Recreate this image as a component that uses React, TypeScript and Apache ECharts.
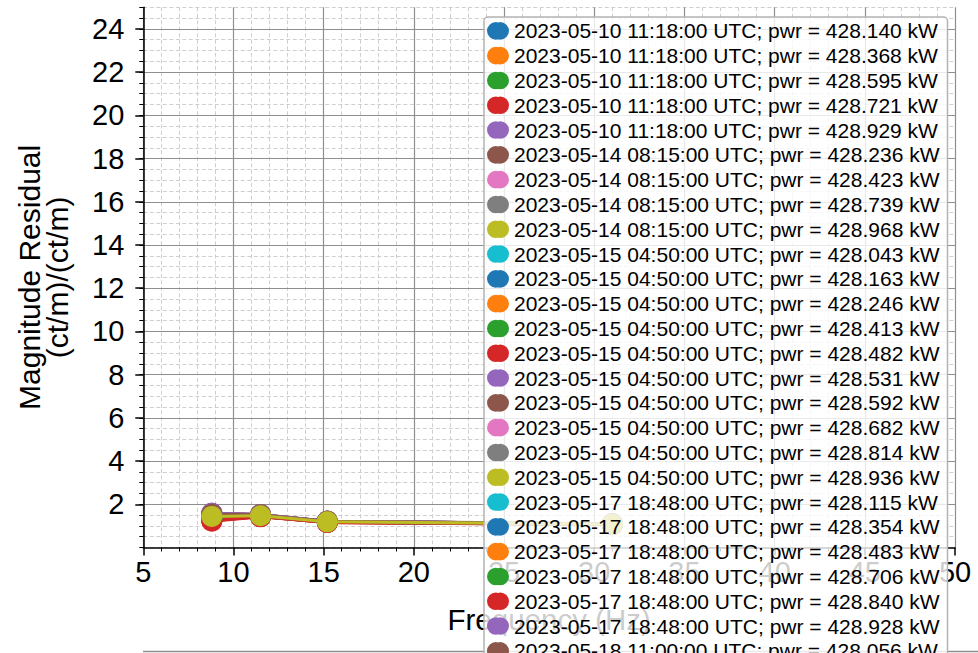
import React, { useEffect, useRef } from 'react';
import * as echarts from 'echarts';

const frequencies = [8.8, 11.5, 15.2, 31.0];

const seriesLabels = [
  '2023-05-10 11:18:00 UTC; pwr = 428.140 kW',
  '2023-05-10 11:18:00 UTC; pwr = 428.368 kW',
  '2023-05-10 11:18:00 UTC; pwr = 428.595 kW',
  '2023-05-10 11:18:00 UTC; pwr = 428.721 kW',
  '2023-05-10 11:18:00 UTC; pwr = 428.929 kW',
  '2023-05-14 08:15:00 UTC; pwr = 428.236 kW',
  '2023-05-14 08:15:00 UTC; pwr = 428.423 kW',
  '2023-05-14 08:15:00 UTC; pwr = 428.739 kW',
  '2023-05-14 08:15:00 UTC; pwr = 428.968 kW',
  '2023-05-15 04:50:00 UTC; pwr = 428.043 kW',
  '2023-05-15 04:50:00 UTC; pwr = 428.163 kW',
  '2023-05-15 04:50:00 UTC; pwr = 428.246 kW',
  '2023-05-15 04:50:00 UTC; pwr = 428.413 kW',
  '2023-05-15 04:50:00 UTC; pwr = 428.482 kW',
  '2023-05-15 04:50:00 UTC; pwr = 428.531 kW',
  '2023-05-15 04:50:00 UTC; pwr = 428.592 kW',
  '2023-05-15 04:50:00 UTC; pwr = 428.682 kW',
  '2023-05-15 04:50:00 UTC; pwr = 428.814 kW',
  '2023-05-15 04:50:00 UTC; pwr = 428.936 kW',
  '2023-05-17 18:48:00 UTC; pwr = 428.115 kW',
  '2023-05-17 18:48:00 UTC; pwr = 428.354 kW',
  '2023-05-17 18:48:00 UTC; pwr = 428.483 kW',
  '2023-05-17 18:48:00 UTC; pwr = 428.706 kW',
  '2023-05-17 18:48:00 UTC; pwr = 428.840 kW',
  '2023-05-17 18:48:00 UTC; pwr = 428.928 kW',
  '2023-05-18 11:00:00 UTC; pwr = 428.056 kW',
];

// magnitude residual of each series at each frequency
const magAt8p8 = [1.45, 1.43, 1.40, 1.24, 1.58, 1.59, 1.52, 1.55, 1.46, 1.38, 1.34, 1.31, 1.28, 1.22, 1.57, 1.56, 1.50, 1.53, 1.44, 1.36, 1.41, 1.42, 1.35, 1.25, 1.57, 1.54];
const magAt11p5 = [1.47, 1.47, 1.46, 1.43, 1.52, 1.53, 1.50, 1.51, 1.48, 1.45, 1.45, 1.44, 1.44, 1.42, 1.52, 1.52, 1.49, 1.50, 1.47, 1.45, 1.46, 1.46, 1.45, 1.43, 1.52, 1.51];
const magAt15p2 = [1.19, 1.19, 1.18, 1.16, 1.21, 1.22, 1.20, 1.21, 1.19, 1.18, 1.18, 1.17, 1.17, 1.16, 1.21, 1.21, 1.20, 1.20, 1.19, 1.18, 1.18, 1.19, 1.18, 1.16, 1.21, 1.21];
const magAt31 = [1.08, 1.08, 1.07, 1.06, 1.09, 1.10, 1.09, 1.09, 1.08, 1.07, 1.07, 1.07, 1.06, 1.05, 1.09, 1.09, 1.08, 1.09, 1.08, 1.07, 1.07, 1.08, 1.07, 1.06, 1.09, 1.09];

const palette = ['#1f77b4', '#ff7f0e', '#2ca02c', '#d62728', '#9467bd', '#8c564b', '#e377c2', '#7f7f7f', '#bcbd22', '#17becf'];

const yTickValues = [2, 4, 6, 8, 10, 12, 14, 16, 18, 20, 22, 24];

const FONT = "'Liberation Sans', Arial, Helvetica, sans-serif";
const MAJOR_GRID = '#8f8f8f';
const MINOR_GRID = '#cfcfcf';

const legendIcon =
  'path://M10,0 A10,10 0 1,0 10,20 A10,10 0 1,0 10,0 Z M15,0 A10,10 0 1,0 15,20 A10,10 0 1,0 15,0 Z';

export default function App() {
  const ref = useRef<HTMLDivElement>(null);

  useEffect(() => {
    if (!ref.current) return;
    const chart = echarts.init(ref.current, null, { renderer: 'svg' });

    const series = seriesLabels.map((name, i) => ({
      name,
      type: 'line',
      xAxisIndex: 0,
      yAxisIndex: 0,
      data: frequencies.map((f, k) => [f, [magAt8p8, magAt11p5, magAt15p2, magAt31][k][i]]),
      symbol: 'circle',
      symbolSize: 21,
      z: i === 18 ? 3 : 2,
      lineStyle: { width: 3, color: palette[i % 10] },
      itemStyle: { color: palette[i % 10] },
      emphasis: { disabled: true },
      clip: true,
    }));

    chart.setOption({
      animation: false,
      backgroundColor: '#ffffff',
      textStyle: { fontFamily: FONT },
      grid: {
        left: 143.3,
        right: 23,
        top: 7.3,
        bottom: 105.5,
        containLabel: false,
        outerBoundsMode: 'none',
      },
      xAxis: {
        type: 'value',
        min: 5,
        max: 50,
        interval: 5,
        name: 'Frequency (Hz)',
        nameLocation: 'middle',
        nameGap: 57,
        nameTextStyle: { fontFamily: FONT, fontSize: 29.5, color: '#000' },
        axisLine: { show: true, onZero: false, lineStyle: { color: '#000', width: 1.5 } },
        axisTick: { show: true, length: 8, lineStyle: { color: '#000', width: 1.5 } },
        minorTick: { show: true, splitNumber: 5, length: 4, lineStyle: { color: '#000', width: 1 } },
        axisLabel: { fontFamily: FONT, fontSize: 29, color: '#000', margin: 10 },
        splitLine: { show: true, lineStyle: { color: MAJOR_GRID, width: 1.2 } },
        minorSplitLine: { show: true, lineStyle: { color: MINOR_GRID, width: 1, type: [4, 2.5] } },
      },
      yAxis: [
        {
          type: 'value',
          position: 'left',
          min: 0,
          max: 25,
          interval: 2,
          z: 1,
          name: 'Magnitude Residual\n(ct/m)/(ct/m)',
          nameLocation: 'middle',
          nameRotate: 90,
          nameGap: 72,
          nameTextStyle: { fontFamily: FONT, fontSize: 30, color: '#000', lineHeight: 28 },
          axisLine: { show: true, onZero: false, lineStyle: { color: '#000', width: 1.5 } },
          axisTick: {
            show: true,
            length: 8,
            customValues: yTickValues,
            lineStyle: { color: '#000', width: 1.5 },
          },
          axisLabel: {
            fontFamily: FONT,
            fontSize: 29,
            color: '#000',
            margin: 19,
            customValues: yTickValues,
            formatter: (v: number) => (v === 0 || v === 25 ? '' : String(v)),
          },
          splitLine: { show: true, lineStyle: { color: MAJOR_GRID, width: 1.2 } },
        },
        {
          type: 'value',
          position: 'left',
          min: 0,
          max: 25,
          interval: 0.5,
          z: 0,
          axisLine: { show: false },
          axisTick: { show: true, length: 4, lineStyle: { color: '#000', width: 1 } },
          axisLabel: { show: false },
          splitLine: { show: true, lineStyle: { color: MINOR_GRID, width: 1, type: [4, 2.5] } },
        },
      ],
      legend: {
        show: true,
        orient: 'vertical',
        left: 484,
        top: 17,
        height: 2000,
        padding: [3, 8, 3, 3],
        itemGap: 3.1,
        itemWidth: 22,
        itemHeight: 21,
        icon: legendIcon,
        backgroundColor: 'rgba(255,255,255,0.8)',
        borderColor: '#b3b3b3',
        borderWidth: 1.5,
        borderRadius: 4,
        selectedMode: false,
        textStyle: { fontFamily: FONT, fontSize: 21, color: '#000', lineHeight: 21.7 },
        data: seriesLabels,
      },
      graphic: [
        {
          type: 'line',
          shape: { x1: 143, y1: 651.5, x2: 978, y2: 651.5 },
          style: { stroke: '#8f8f8f', lineWidth: 1.5 },
          z: 1,
        },
      ],
      series,
    });

    return () => {
      chart.dispose();
    };
  }, []);

  return (
    <div
      ref={ref}
      style={{ position: 'absolute', left: 0, top: 0, width: 978, height: 653, background: '#fff' }}
    />
  );
}
